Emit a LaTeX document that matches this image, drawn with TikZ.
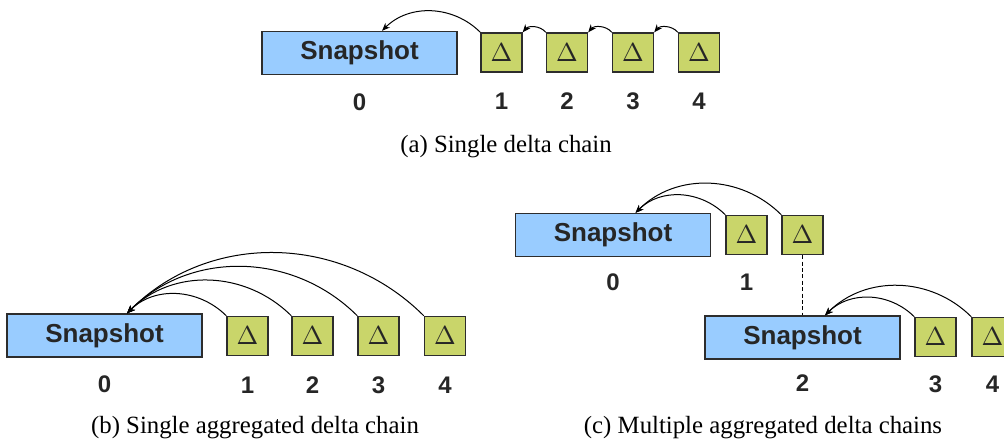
\documentclass[tikz,border=0pt]{standalone}
\usepackage{fontspec}
\setmainfont{Liberation Serif}
\newfontfamily\labelfont{Liberation Sans}
\usetikzlibrary{positioning,arrows.meta}
\definecolor{snapblue}{RGB}{153,204,255}
\definecolor{deltagreen}{RGB}{201,213,106}
\definecolor{boxline}{RGB}{45,45,45}
\tikzset{
  snapbox/.style={draw=boxline, fill=snapblue, line width=0.65pt, minimum width=97.5pt,
    minimum height=21.5pt, inner sep=0pt, text=black!85,
    font=\labelfont\bfseries\fontsize{13}{13}\selectfont},
  deltabox/.style={draw=boxline, fill=deltagreen, line width=0.65pt, minimum width=20.5pt,
    minimum height=19.5pt, inner sep=0pt, text=black!85},
  num/.style={text=black!85, font=\labelfont\bfseries\fontsize{12}{12}\selectfont},
  caption/.style={font=\fontsize{12.4}{14}\selectfont},
  back/.style={->, line width=0.5pt, out=135, in=45}
}
% the triangle drawn in every delta box
\newcommand{\dsym}{\scalebox{1.3}{$\Delta$}}

\begin{document}
\begin{tikzpicture}[x=0.5pt, y=-0.5pt, >={Stealth[length=4pt, width=3.2pt]}]
  \clip (0,0) rectangle (1004,442);

  % (a) one chain, every delta points to the one before it
  \node[snapbox] (a0) at (359.5,53) {Snapshot};
  \foreach \i/\x in {1/501.5, 2/567, 3/633, 4/699}
    \node[deltabox] (a\i) at (\x,52.5) {\dsym};
  \foreach \i in {0,...,4}
    \path (a\i) ++(0,49) node[num] {\i};
  \coordinate (ta) at ([xshift=11.25pt]a0.north);
  \draw[back] (a1.north west) to (ta);
  \foreach \i/\j in {2/1, 3/2, 4/3}
    \draw[back, out=130, in=50] (a\i.north west) to (a\j.north east);
  \node[caption] (capa) at (506,147) {(a) Single delta chain};

  % (b) all deltas point straight to the snapshot
  \node[snapbox] (b0) at (104.5,335.5) {Snapshot};
  \foreach \i/\x in {1/247.5, 2/312.5, 3/378.5, 4/445}
    \node[deltabox] (b\i) at (\x,336) {\dsym};
  \foreach \i in {0,...,4}
    \path (b\i) ++(0,49) node[num] {\i};
  \coordinate (tb) at ([xshift=11.25pt]b0.north);
  \foreach \i in {1,...,4}
    \draw[back] (b\i.north west) to (tb);
  \node[caption] (capb) at (255,428) {(b) Single aggregated delta chain};

  % (c) a new snapshot starts a second chain
  \node[snapbox] (c0) at (613,235) {Snapshot};
  \node[deltabox] (c1) at (746.5,235) {\dsym};
  \node[deltabox] (c2) at (802.5,235) {\dsym};
  \node[snapbox] (s2) at (802.5,337.5) {Snapshot};
  \node[deltabox] (c3) at (935.5,337) {\dsym};
  \node[deltabox] (c4) at (992.5,337) {\dsym};
  \path (c0) ++(0,47) node[num] {0};
  \path (c1) ++(0,47) node[num] {1};
  \path (s2) ++(0,46) node[num] {2};
  \path (c3) ++(0,47) node[num] {3};
  \path (c4) ++(0,47) node[num] {4};
  \coordinate (tc) at ([xshift=11.25pt]c0.north);
  \coordinate (td) at ([xshift=11.25pt]s2.north);
  \draw[back] (c1.north west) to (tc);
  \draw[back] (c2.north west) to (tc);
  \draw[back] (c3.north west) to (td);
  \draw[back] (c4.north west) to (td);
  \draw[dashed, line width=0.5pt, dash pattern=on 2pt off 1.2pt] (c2.south) -- (s2.north);
  \node[caption] (capc) at (763,428) {(c) Multiple aggregated delta chains};
\end{tikzpicture}
\end{document}
